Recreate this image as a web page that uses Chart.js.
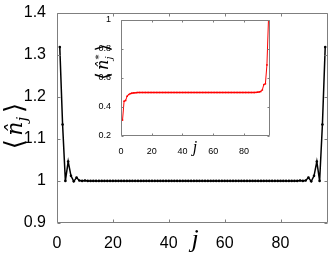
<!DOCTYPE html>
<html><head><meta charset="utf-8">
<script src="https://cdn.jsdelivr.net/npm/chart.js@4"></script>
<style>
html,body{margin:0;padding:0;background:#fff;overflow:hidden;}
#wrap{position:relative;width:333px;height:256px;}
#main{position:absolute;left:0;top:0;}
#inset{position:absolute;left:80px;top:10px;}
</style></head><body>
<div id="wrap"><canvas id="main" width="333" height="256"></canvas><canvas id="inset" width="195" height="150"></canvas></div>
<script>
// ---- data ----
const sites = [1,2,3,4,5,6,7,8,9,10,11,12,13,14,15,16,17,18,19,20,21,22,23,24,25,26,27,28,29,30,31,32,33,34,35,36,37,38,39,40,41,42,43,44,45,46,47,48,49,50,51,52,53,54,55,56,57,58,59,60,61,62,63,64,65,66,67,68,69,70,71,72,73,74,75,76,77,78,79,80,81,82,83,84,85,86,87,88,89,90,91,92,93,94,95,96];
const occupation = [1.318,1.134,1.000,1.046,1.012,0.999,1.008,1.001,1.000,1.001,
  1.000,1.000,1.000,1.000,1.000,1.000,1.000,1.000,1.000,1.000,
  1.000,1.000,1.000,1.000,1.000,1.000,1.000,1.000,1.000,1.000,
  1.000,1.000,1.000,1.000,1.000,1.000,1.000,1.000,1.000,1.000,
  1.000,1.000,1.000,1.000,1.000,1.000,1.000,1.000,1.000,1.000,
  1.000,1.000,1.000,1.000,1.000,1.000,1.000,1.000,1.000,1.000,
  1.000,1.000,1.000,1.000,1.000,1.000,1.000,1.000,1.000,1.000,
  1.000,1.000,1.000,1.000,1.000,1.000,1.000,1.000,1.000,1.000,
  1.000,1.000,1.000,1.000,1.000,1.000,
  1.001,1.000,1.001,1.008,0.999,1.012,1.046,1.000,1.134,1.318];
const occupationStar = [0.31,0.44,0.445,0.475,0.486,0.492,0.495,0.497,0.498,0.499,
  0.5,0.5,0.5,0.5,0.5,0.5,0.5,0.5,0.5,0.5,
  0.5,0.5,0.5,0.5,0.5,0.5,0.5,0.5,0.5,0.5,
  0.5,0.5,0.5,0.5,0.5,0.5,0.5,0.5,0.5,0.5,
  0.5,0.5,0.5,0.5,0.5,0.5,0.5,0.5,0.5,0.5,
  0.5,0.5,0.5,0.5,0.5,0.5,0.5,0.5,0.5,0.5,
  0.5,0.5,0.5,0.5,0.5,0.5,0.5,0.5,0.5,0.5,
  0.5,0.5,0.5,0.5,0.5,0.5,0.5,0.5,0.5,0.5,
  0.5,0.5,0.5,0.5,0.5,0.5,0.5,
  0.501,0.502,0.504,0.507,0.518,0.555,0.56,0.69,1.0];
const mainXTicks = [0,20,40,60,80];
const mainYTicks = [0.9,1,1.1,1.2,1.3,1.4];
const mainYTickLabels = ['0.9','1','1.1','1.2','1.3','1.4'];
const insetXTicks = [0,20,40,60,80];
const insetXTickLabels = ['0','20','40','60','80'];
const insetYTicks = [0.2,0.4,0.6,0.8,1];
const insetYTickLabels = ['0.2','0.4','0.6','0.8','1'];

// ---- helpers ----
const AX = '#7f7f7f';
function boxTicks(len){
  return {id:'boxTicks', afterDatasetsDraw(chart){
    const {ctx, chartArea:a, scales:{x,y}} = chart;
    const L=Math.round(a.left)+0.5, R=Math.round(a.right)-0.5, T=Math.round(a.top)+0.5, B=Math.round(a.bottom)-0.5;
    ctx.save(); ctx.strokeStyle=AX; ctx.lineWidth=1;
    ctx.beginPath(); ctx.rect(L,T,R-L,B-T);
    x.ticks.forEach(t=>{const p=Math.round(x.getPixelForValue(t.value))+0.5;
      ctx.moveTo(p,B); ctx.lineTo(p,B-len); ctx.moveTo(p,T); ctx.lineTo(p,T+len);});
    y.ticks.forEach(t=>{const p=Math.round(y.getPixelForValue(t.value))+0.5;
      ctx.moveTo(L,p); ctx.lineTo(L+len,p); ctx.moveTo(R,p); ctx.lineTo(R-len,p);});
    ctx.stroke(); ctx.restore();
  }};
}
function whiteArea(){
  return {id:'whiteArea', beforeDraw(chart){const {ctx, chartArea:a}=chart;
    ctx.save(); ctx.fillStyle='#fff'; ctx.fillRect(a.left,a.top,a.right-a.left,a.bottom-a.top); ctx.restore();}};
}
function braket(ctx, cx, cy, size, star){
  ctx.save(); ctx.translate(cx,cy); ctx.rotate(-Math.PI/2);
  ctx.fillStyle='#000'; ctx.textBaseline='alphabetic'; ctx.textAlign='left';
  const bf = Math.round(size*1.2)+'px "DejaVu Sans"';
  const nf = 'italic '+size+'px "DejaVu Serif"';
  const sf = 'italic '+Math.round(size*0.62)+'px "DejaVu Serif"';
  const gap = size*0.15;
  ctx.font=bf; const wb=ctx.measureText('\u27E8').width;
  ctx.font=nf; const wn=ctx.measureText('n\u0302').width;
  ctx.font=sf; const wj=Math.max(ctx.measureText('j').width, star?ctx.measureText('*').width:0);
  const total = wb*2+gap*2+wn+wj+size*0.05;
  let x=-total/2; const base=size*0.33;
  ctx.font=bf; ctx.fillText('\u27E8',x,base+size*0.05); x+=wb+gap;
  ctx.font=nf; ctx.fillText('n\u0302',x,base); x+=wn+size*0.02;
  ctx.font=sf; ctx.fillText('j',x,base+size*0.22);
  if(star) ctx.fillText('*',x,base-size*0.42);
  x+=wj+gap+size*0.03;
  ctx.font=bf; ctx.fillText('\u27E9',x,base+size*0.05);
  ctx.restore();
}
function italicJ(ctx,cx,base,size){
  ctx.save(); ctx.font='italic '+size+'px "Liberation Serif"'; ctx.fillStyle='#000';
  ctx.textAlign='center'; ctx.textBaseline='alphabetic'; ctx.fillText('j',cx,base); ctx.restore();
}

// ---- main chart (also carries the inset's axis titles, which sit outside the inset plot box) ----
new Chart(document.getElementById('main'),{
  type:'line',
  data:{datasets:[{data:sites.map((j,i)=>({x:j,y:occupation[i]})),
    borderColor:'#000',backgroundColor:'#000',borderWidth:1.5,pointRadius:1.3,pointBorderWidth:0,tension:0}]},
  options:{responsive:false,animation:false,devicePixelRatio:1,events:[],
    layout:{padding:{left:0,top:11,right:5,bottom:0}},
    plugins:{legend:{display:false},tooltip:{enabled:false}},
    scales:{
      x:{type:'linear',min:0,max:97,grid:{display:false},border:{display:false},
        afterBuildTicks:s=>{s.ticks=mainXTicks.map(v=>({value:v}));},
        ticks:{color:'#000',font:{family:'"Liberation Sans"',size:16},padding:3,maxRotation:0,autoSkip:false},
        afterFit:s=>{s.height=33;}},
      y:{type:'linear',min:0.9,max:1.4,grid:{display:false},border:{display:false},
        afterBuildTicks:s=>{s.ticks=mainYTicks.map(v=>({value:v}));},
        ticks:{color:'#000',font:{family:'"Liberation Sans"',size:16},padding:3,autoSkip:false,
          callback:(v,i)=>mainYTickLabels[i]},
        afterFit:s=>{s.width=57;}}
    }},
  plugins:[boxTicks(3),{id:'mainTitles',afterDraw(chart){
    braket(chart.ctx,15,126,22,false);
    italicJ(chart.ctx,195,247,26);
    braket(chart.ctx,103,62,16,true);
    italicJ(chart.ctx,195,152,16);
  }}]
});

// ---- inset chart ----
new Chart(document.getElementById('inset'),{
  type:'line',
  data:{datasets:[{data:sites.map((j,i)=>({x:j,y:occupationStar[i]})),
    borderColor:'#ff0000',backgroundColor:'#ff0000',borderWidth:1,pointRadius:0.9,pointBorderWidth:0,tension:0}]},
  options:{responsive:false,animation:false,devicePixelRatio:1,events:[],
    layout:{padding:{left:0,top:10,right:5,bottom:0}},
    plugins:{legend:{display:false},tooltip:{enabled:false}},
    scales:{
      x:{type:'linear',min:0,max:97,grid:{display:false},border:{display:false},
        afterBuildTicks:s=>{s.ticks=insetXTicks.map(v=>({value:v}));},
        ticks:{color:'#000',font:{family:'"Liberation Sans"',size:9},padding:2,maxRotation:0,autoSkip:false,
          callback:(v,i)=>insetXTickLabels[i]},
        afterFit:s=>{s.height=24;}},
      y:{type:'linear',min:0.2,max:1,grid:{display:false},border:{display:false},
        afterBuildTicks:s=>{s.ticks=insetYTicks.map(v=>({value:v}));},
        ticks:{color:'#000',font:{family:'"Liberation Sans"',size:9},padding:2,autoSkip:false,
          callback:(v,i)=>insetYTickLabels[i]},
        afterFit:s=>{s.width=41;}}
    }},
  plugins:[whiteArea(),boxTicks(2)]
});
</script></body></html>
